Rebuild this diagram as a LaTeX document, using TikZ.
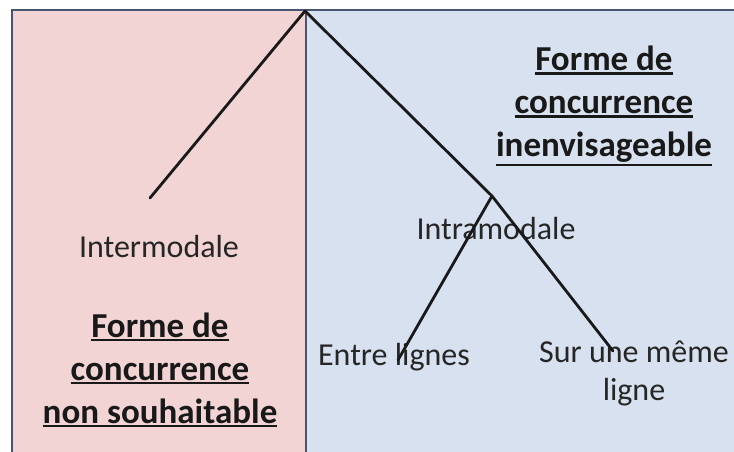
\documentclass[tikz,border=0pt]{standalone}
\usepackage{fontspec}
\setmainfont{Carlito}
\definecolor{pinkpanel}{RGB}{242,212,212}
\definecolor{bluepanel}{RGB}{215,225,239}
\definecolor{framecol}{RGB}{72,86,112}
\definecolor{textcol}{RGB}{38,38,38}
\newcommand{\thickul}[1]{\vtop{\hbox{#1}\kern1.5pt\hrule height 2.4pt}}
\tikzset{
  leaf/.style={font=\fontsize{32}{38}\selectfont, text=textcol, align=center, inner sep=0pt},
  verdict/.style={font=\fontsize{35}{43}\selectfont\bfseries, text=black!90, align=center, inner sep=0pt},
  branch/.style={line width=2.8pt, black!90, line cap=round}
}
\begin{document}
\begin{tikzpicture}[x=1pt,y=-1pt]
    \useasboundingbox (0,0) rectangle (734,452);
    \fill[pinkpanel] (12,10) rectangle (306,452);
    \fill[bluepanel] (306,10) rectangle (734,452);
    \draw[framecol, line width=2.6pt] (12,452) -- (12,10) -- (734,10);
    \draw[framecol, line width=2.2pt] (306,10) -- (306,452);
    \coordinate (top) at (305,11);
    \coordinate (inter end) at (150,198);
    \coordinate (fork) at (492,196);
    \coordinate (entre end) at (398,360);
    \coordinate (sur end) at (613,351);
    \node[leaf] (inter) at (159,247) {Intermodale};
    \node[leaf] (intra) at (496,229) {Intramodale};
    \node[leaf] (entre) at (394,357) {Entre lignes};
    \node[leaf] (sur) at (634,373) {Sur une même\\ligne};
    \node[verdict] (bad) at (160,370) {\thickul{Forme de}\\\thickul{concurrence}\\\thickul{non souhaitable}};
    \node[verdict] (nogo) at (604,106) {\thickul{Forme de}\\\thickul{concurrence}\\\thickul{inenvisageable}};
    \path (top) edge[branch] (inter end);
    \path (top) edge[branch] (fork);
    \path (fork) edge[branch] (entre end);
    \path (fork) edge[branch] (sur end);
\end{tikzpicture}
\end{document}
